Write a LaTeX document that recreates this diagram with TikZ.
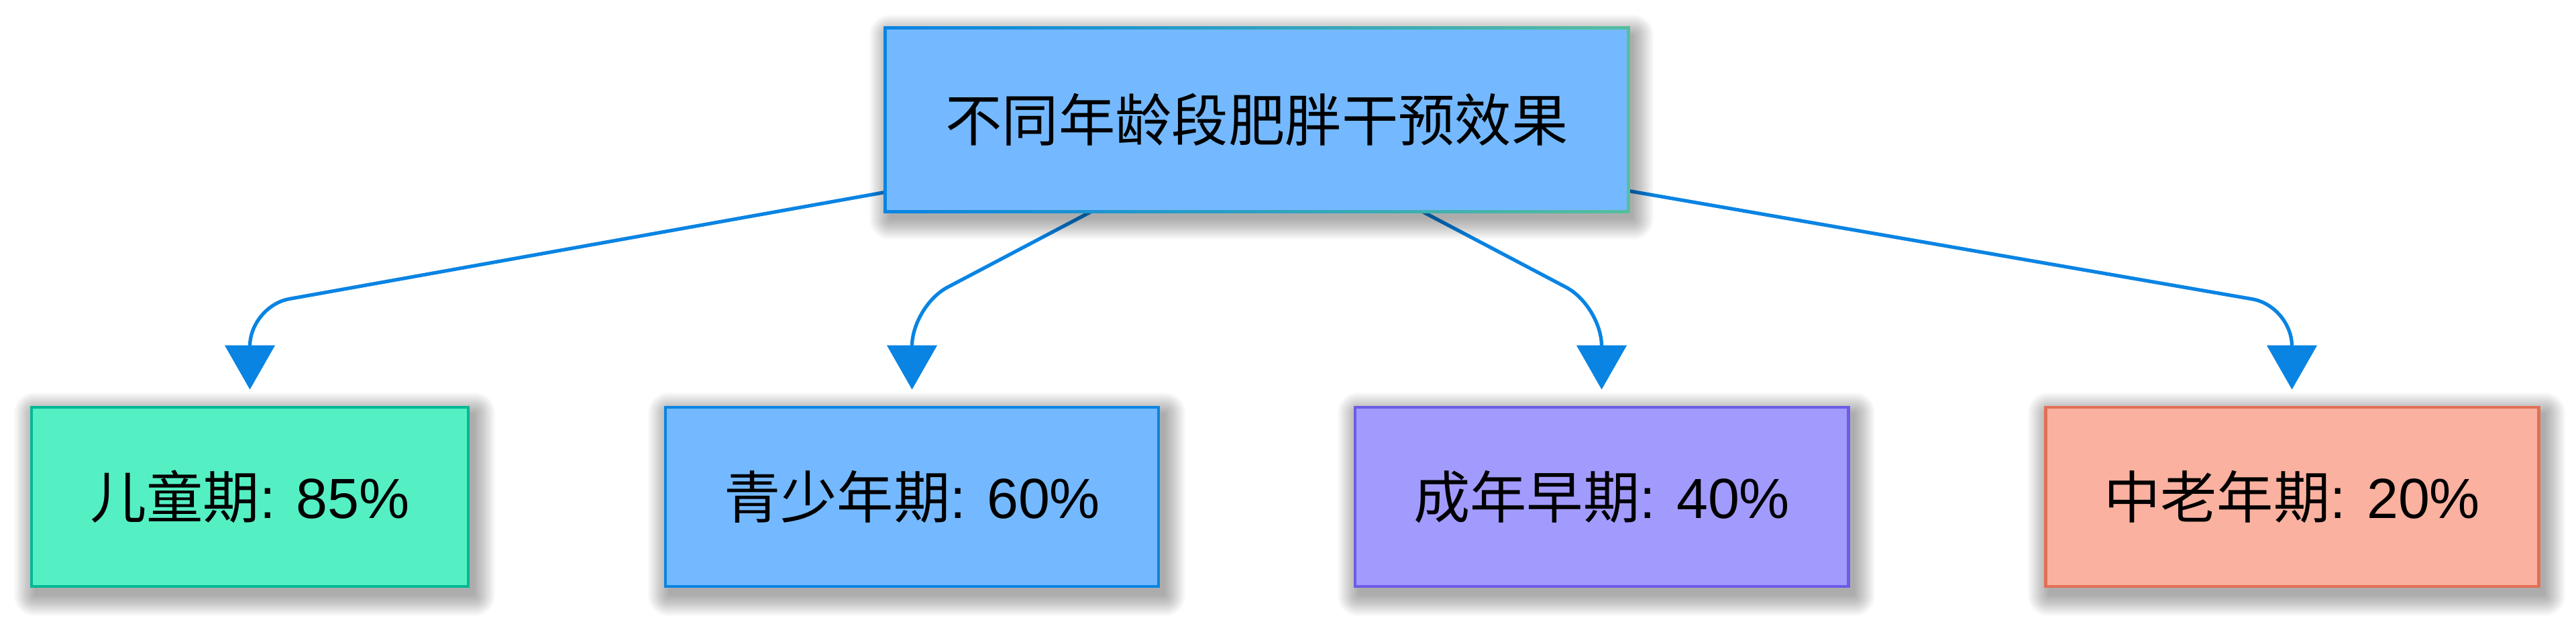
\documentclass[tikz,border=0pt]{standalone}
\usepackage{fontspec}
\setmainfont{Liberation Sans}
\newfontfamily\cjk{Noto Sans CJK SC}
\usetikzlibrary{arrows.meta}
\definecolor{edgeblue}{HTML}{0984E3}
\definecolor{topfill}{HTML}{74B9FF}
\definecolor{topright}{HTML}{55BF9E}
\definecolor{gfill}{HTML}{55EFC4}\definecolor{gline}{HTML}{00B894}
\definecolor{bfill}{HTML}{74B9FF}\definecolor{bline}{HTML}{0984E3}
\definecolor{pfill}{HTML}{A29BFE}\definecolor{pline}{HTML}{6C5CE7}
\definecolor{rfill}{HTML}{FAB1A0}\definecolor{rline}{HTML}{E17055}
\pgfdeclarelayer{bg}
\pgfdeclarelayer{shadowlayer}
\pgfsetlayers{bg,shadowlayer,main}
\tikzset{
  boxnode/.style={rectangle, minimum height=2.67cm, inner sep=0pt, line width=1.4pt,
    font=\fontsize{24}{29}\selectfont},
  shadowpiece/.style={fill=black, fill opacity=0.02},
  edge/.style={draw=edgeblue, line width=1.5pt, rounded corners=0.6cm,
    -{Triangle[length=0.66cm,width=0.74cm]}, shorten >=0.24cm}
}
\begin{document}
\begin{tikzpicture}
\useasboundingbox (0,0) rectangle (38.4,9.26);
\begin{pgfonlayer}{bg}
\fill[white] (0,0) rectangle (38.4,9.26);
\end{pgfonlayer}
\node[boxnode, fill=topfill, minimum width=11.03cm, minimum height=2.69cm] (top) at (18.735,7.475) {{\cjk 不同年龄段肥胖干预效果}};
\foreach \i in {0,...,49}{
  \pgfmathsetmacro{\pct}{100-\i*2}
  \colorlet{segc}{edgeblue!\pct!topright}
  \fill[segc] ([shift={(\i*0.2206-0.025,-0.025)}]top.south west) rectangle ([shift={(\i*0.2206+0.2206+0.025,0.025)}]top.south west);
  \fill[segc] ([shift={(\i*0.2206-0.025,-0.025)}]top.north west) rectangle ([shift={(\i*0.2206+0.2206+0.025,0.025)}]top.north west);
}
\fill[edgeblue] ([shift={(-0.025,-0.025)}]top.south west) rectangle ([shift={(0.025,0.025)}]top.north west);
\fill[topright] ([shift={(-0.025,-0.025)}]top.south east) rectangle ([shift={(0.025,0.025)}]top.north east);
\node[boxnode, fill=gfill, draw=gline, minimum width=6.51cm] (n1) at (3.725,1.855) {{\cjk 儿童期}: 85\%};
\node[boxnode, fill=bfill, draw=bline, minimum width=7.35cm] (n2) at (13.595,1.855) {{\cjk 青少年期}: 60\%};
\node[boxnode, fill=pfill, draw=pline, minimum width=7.35cm] (n3) at (23.875,1.855) {{\cjk 成年早期}: 40\%};
\node[boxnode, fill=rfill, draw=rline, minimum width=7.35cm] (n4) at (34.165,1.855) {{\cjk 中老年期}: 20\%};
\begin{pgfonlayer}{shadowlayer}
\foreach \n in {top,n1,n2,n3,n4}{
  \foreach \k in {0,...,17}{
    \fill[shadowpiece, rounded corners=\k*0.018cm]
      ([shift={(0.07-\k*0.018,-0.11-\k*0.018)}]\n.south west) rectangle ([shift={(0.07+\k*0.018,-0.11+\k*0.018)}]\n.north east);
  }
}
\end{pgfonlayer}
\coordinate (s1) at ([yshift=0.29cm]top.south west);
\coordinate (s2) at ([xshift=-2.47cm]top.south);
\coordinate (s3) at ([xshift=2.47cm]top.south);
\coordinate (s4) at ([yshift=0.31cm]top.south east);
\coordinate (c1) at (3.725,4.70);
\coordinate (c2) at (13.595,4.70);
\coordinate (c3) at (23.875,4.70);
\coordinate (c4) at (34.165,4.70);
\begin{pgfonlayer}{bg}
\draw[edge] (s1) -- (c1) -- (n1.north);
\draw[edge] (s2) -- (c2) -- (n2.north);
\draw[edge] (s3) -- (c3) -- (n3.north);
\draw[edge] (s4) -- (c4) -- (n4.north);
\end{pgfonlayer}
\end{tikzpicture}
\end{document}
